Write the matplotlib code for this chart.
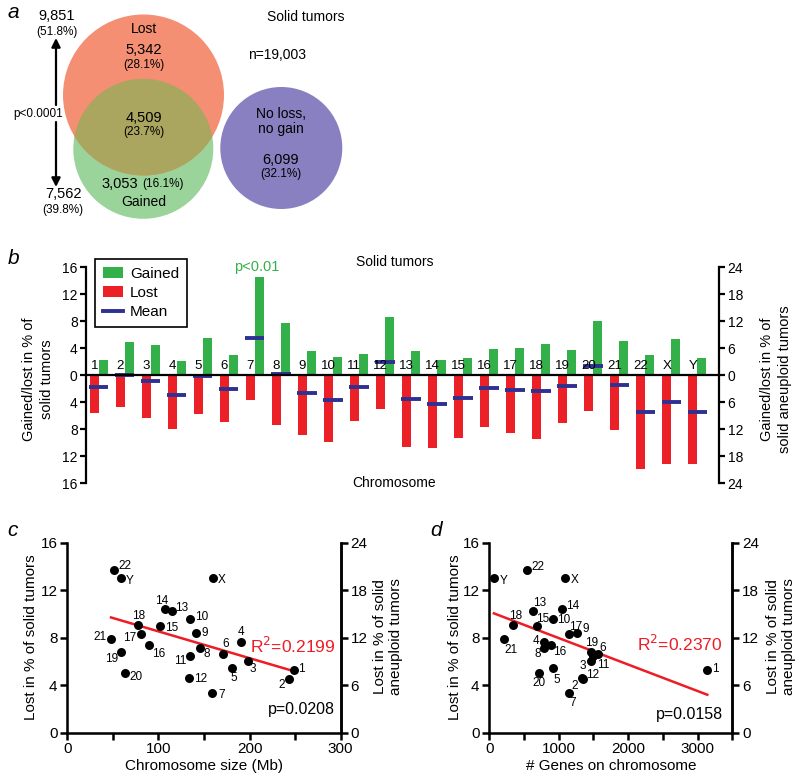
import numpy as np
import matplotlib
matplotlib.use('Agg')
import matplotlib.pyplot as plt
from matplotlib.patches import Circle, Patch
from matplotlib.lines import Line2D

plt.rcParams['font.family'] = ['Liberation Sans', 'DejaVu Sans']

W, H = 800, 779

# ---- panel a: venn numbers ----
venn_lost_only = ('5,342', '(28.1%)')
venn_both = ('4,509', '(23.7%)')
venn_gained_only = ('3,053', '(16.1%)')
venn_none = ('6,099', '(32.1%)')
total_lost = ('9,851', '(51.8%)')
total_gained = ('7,562', '(39.8%)')
n_total = 'n=19,003'

# ---- panel b: per chromosome gain / loss (% of solid tumors) ----
chroms = ['1', '2', '3', '4', '5', '6', '7', '8', '9', '10', '11', '12',
          '13', '14', '15', '16', '17', '18', '19', '20', '21', '22', 'X', 'Y']
gained = [2.2, 4.9, 4.55, 2.1, 5.55, 2.95, 14.5, 7.8, 3.55, 2.7, 3.15, 8.7,
          3.6, 2.2, 2.55, 3.85, 4.05, 4.6, 3.8, 8.0, 5.05, 2.95, 5.45, 2.5]
lost = [5.6, 4.7, 6.3, 8.0, 5.7, 6.9, 3.6, 7.4, 8.8, 9.9, 6.7, 4.95,
        10.6, 10.8, 9.25, 7.6, 8.5, 9.4, 7.0, 5.3, 8.1, 13.9, 13.2, 13.2]
mean = [-1.7, 0.1, -0.9, -2.9, -0.1, -2.0, 5.5, 0.25, -2.6, -3.6, -1.7, 2.0,
        -3.45, -4.2, -3.35, -1.85, -2.25, -2.35, -1.6, 1.35, -1.5, -5.45, -3.9, -5.4]

# ---- panels c/d ----
size_mb = [249, 243, 198, 191, 181, 171, 159, 146, 141, 135, 135, 134,
           115, 107, 102, 90, 81, 78, 59, 63, 48, 51, 160, 59]
n_genes = [3140, 1344, 1459, 787, 922, 1565, 1147, 787, 1267, 922, 1488, 1335,
           624, 1047, 691, 883, 1143, 336, 1459, 720, 216, 543, 1088, 66]
lost_pts = [5.27, 4.5, 6.0, 7.64, 5.45, 6.63, 3.35, 7.13, 8.35, 9.57, 6.47, 4.62,
            10.27, 10.45, 9.0, 7.4, 8.3, 9.1, 6.8, 5.0, 7.86, 13.7, 13.0, 13.0]
r2_c, p_c = '0.2199', '0.0208'
r2_d, p_d = '0.2370', '0.0158'

# label offsets in pixels (dx right, dy down)
offs_c = [(7, -1), (-7, 6), (5, 8), (0, -10), (2, 10), (3, -10), (9, 2), (6, 6),
          (9, 0), (11, -2), (-10, 5), (11, 1), (10, -3), (-3, -8), (11, 2), (9, 9),
          (-11, 4), (0, -9), (-9, 7), (11, 4), (-11, -2), (11, -4), (9, 2), (9, 3)]
offs_d = [(8, -1), (-8, 7), (-8, 5), (-8, -1), (3, 12), (5, -6), (4, 10), (-6, 6),
          (8, -4), (10, 1), (11, 9), (11, -3), (7, -8), (11, -3), (5, -7), (9, 7),
          (7, -7), (3, -9), (1, -9), (0, 10), (7, 11), (11, -3), (10, 2), (10, 3)]

GREEN = '#33b04a'
RED = '#ec2027'
NAVY = '#2e3192'


def px_axes(fig, x0, y0, x1, y1):
    return fig.add_axes([x0 / W, 1 - y1 / H, (x1 - x0) / W, (y1 - y0) / H])


fig = plt.figure(figsize=(W / 100, H / 100), dpi=100)

# ================= panel a =================
ax = px_axes(fig, 0, 0, 800, 235)
ax.set_xlim(0, 800)
ax.set_ylim(235, 0)
ax.axis('off')

c_gain = Circle((143.3, 148.8), 70, facecolor='#9bd49b', edgecolor='none')
c_lost = Circle((143.5, 95), 80.5, facecolor='#f48f73', edgecolor='none')
ax.add_patch(c_gain)
ax.add_patch(c_lost)
c_both = Circle((143.5, 95), 80.5, facecolor='#aaa55f', edgecolor='none')
ax.add_patch(c_both)
c_both.set_clip_path(c_gain)
ax.add_patch(Circle((281.3, 148), 61, facecolor='#8880c0', edgecolor='none'))

ax.text(143.5, 29, 'Lost', ha='center', va='center', fontsize=10)
ax.text(143.5, 50.5, venn_lost_only[0], ha='center', va='center', fontsize=10.5)
ax.text(143.5, 65, venn_lost_only[1], ha='center', va='center', fontsize=8.5)
ax.text(143.5, 118.5, venn_both[0], ha='center', va='center', fontsize=10.5)
ax.text(143.5, 132.5, venn_both[1], ha='center', va='center', fontsize=8.5)
ax.text(138, 183.5, venn_gained_only[0], ha='right', va='center', fontsize=10.5)
ax.text(142, 183.5, venn_gained_only[1], ha='left', va='center', fontsize=8.5)
ax.text(143.5, 202.5, 'Gained', ha='center', va='center', fontsize=10)
ax.text(281, 114.5, 'No loss,', ha='center', va='center', fontsize=10)
ax.text(281, 129, 'no gain', ha='center', va='center', fontsize=10)
ax.text(281, 160, venn_none[0], ha='center', va='center', fontsize=10.5)
ax.text(281, 174, venn_none[1], ha='center', va='center', fontsize=8.5)
ax.text(306, 17, 'Solid tumors', ha='center', va='center', fontsize=10)
ax.text(277, 55, n_total, ha='center', va='center', fontsize=10)

ax.text(57, 16.5, total_lost[0], ha='center', va='center', fontsize=10.5)
ax.text(57, 31.5, total_lost[1], ha='center', va='center', fontsize=8.5)
ax.text(63, 194.5, total_gained[0], ha='center', va='center', fontsize=10.5)
ax.text(63, 209.5, total_gained[1], ha='center', va='center', fontsize=8.5)
ax.text(38, 113.5, 'p<0.0001', ha='center', va='center', fontsize=8.5)
arr = dict(arrowstyle='-|>', lw=1.6, color='k', mutation_scale=13, shrinkA=0, shrinkB=0)
ax.annotate('', xy=(56, 38), xytext=(56, 105), arrowprops=arr)
ax.annotate('', xy=(56, 187), xytext=(56, 122), arrowprops=arr)

fig.text(8 / W, 1 - 12 / H, 'a', fontsize=15, style='italic', va='center')

# ================= panel b =================
axb = px_axes(fig, 86, 267.3, 719.3, 483.3)
x = np.arange(len(chroms))
bw = 0.345
axb.bar(x - bw / 2, [-v for v in lost], width=bw, color=RED, zorder=2)
axb.bar(x + bw / 2, gained, width=bw, color=GREEN, zorder=2)
axb.hlines(mean, x - 0.37, x + 0.37, color=NAVY, lw=2.8, zorder=3)
axb.axhline(0, color='k', lw=1.6, zorder=4)
for xi, lab in zip(x, chroms):
    axb.text(xi - bw / 2, 0.45, lab, ha='center', va='bottom', fontsize=9.5, zorder=5)
axb.text(6 + bw / 2 - 0.1, 16.0, 'p<0.01', color=GREEN, ha='center', va='center', fontsize=10.5)

axb.set_xlim(-0.49, 23.85)
axb.set_ylim(-16, 16)
yt = np.arange(-16, 17, 4)
axb.set_yticks(yt)
axb.set_yticklabels([str(abs(v)) for v in yt], fontsize=10)
axb.set_xticks([])
for s in ['top', 'bottom', 'right']:
    axb.spines[s].set_visible(False)
axb.spines['left'].set_linewidth(1.6)
axb.tick_params(axis='y', direction='out', length=4, width=1.6, pad=2)

axb2 = axb.twinx()
axb2.set_ylim(-24, 24)
yt2 = np.arange(-24, 25, 6)
axb2.set_yticks(yt2)
axb2.set_yticklabels([str(abs(v)) for v in yt2], fontsize=10)
for s in ['top', 'bottom', 'left']:
    axb2.spines[s].set_visible(False)
axb2.spines['right'].set_linewidth(1.6)
axb2.tick_params(axis='y', direction='out', length=4, width=1.6, pad=2)

handles = [Patch(facecolor=GREEN), Patch(facecolor=RED),
           Line2D([], [], color=NAVY, lw=2.8)]
leg = axb2.legend(handles, ['Gained', 'Lost', 'Mean'], loc='upper left',
                  bbox_to_anchor=(0.0142, 1.037), borderaxespad=0, fontsize=11,
                  fancybox=False, edgecolor='k', framealpha=1, borderpad=0.5,
                  handlelength=1.35, handleheight=0.72, labelspacing=0.33,
                  handletextpad=0.45)
leg.get_frame().set_linewidth(1.2)
leg.set_zorder(10)

fig.text(395 / W, 1 - 262 / H, 'Solid tumors', ha='center', va='center', fontsize=10)
fig.text(394 / W, 1 - 483 / H, 'Chromosome', ha='center', va='center', fontsize=10)
fig.text(38 / W, 1 - 379 / H, 'Gained/lost in % of\nsolid tumors', rotation=90,
         ha='center', va='center', fontsize=10.5, multialignment='center', linespacing=1.3)
fig.text(776 / W, 1 - 379 / H, 'Gained/lost in % of\nsolid aneuploid tumors', rotation=90,
         ha='center', va='center', fontsize=10.5, multialignment='center', linespacing=1.3)
fig.text(8 / W, 1 - 258 / H, 'b', fontsize=15, style='italic', va='center')


# ================= panels c and d =================
def scatter_panel(box, xs, xlim, xticks, xminor, xlabel, offs, r2, pval, r2pos, ppos,
                  ylabx, ylab2x, letter, letterx):
    axs = px_axes(fig, *box)
    axs.scatter(xs, lost_pts, s=42, color='k', zorder=3, linewidths=0)
    for xv, yv, lab, (dx, dy) in zip(xs, lost_pts, chroms, offs):
        axs.annotate(lab, (xv, yv), xytext=(dx * 0.72, -dy * 0.72), textcoords='offset points',
                     ha='center', va='center', fontsize=8.5)
    k, b = np.polyfit(xs, lost_pts, 1)
    xx = np.array([min(xs), max(xs)])
    axs.plot(xx, k * xx + b, color='#ee1c25', lw=1.8, zorder=2)
    axs.set_xlim(*xlim)
    axs.set_ylim(0, 16)
    axs.set_xticks(xticks)
    axs.set_xticks(xminor, minor=True)
    axs.set_yticks([0, 4, 8, 12, 16])
    axs.tick_params(labelsize=11, direction='out', length=5, width=1.8, pad=2)
    axs.tick_params(which='minor', direction='out', length=5, width=1.8)
    axs.spines['top'].set_visible(False)
    for s in ['left', 'bottom', 'right']:
        axs.spines[s].set_linewidth(1.8)
    axs.set_xlabel(xlabel, fontsize=11, labelpad=2)
    axs.text(r2pos[0], r2pos[1], 'R$^2$=' + r2, color='#ee1c25', ha='right',
             va='center', fontsize=12.5)
    axs.text(ppos[0], ppos[1], 'p=' + pval, ha='right', va='center', fontsize=11.5)
    ax2 = axs.twinx()
    ax2.set_ylim(0, 24)
    ax2.set_yticks([0, 6, 12, 18, 24])
    ax2.tick_params(labelsize=11, direction='out', length=5, width=1.8, pad=2)
    ax2.spines['top'].set_visible(False)
    ax2.spines['right'].set_linewidth(1.8)
    fig.text(ylabx / W, 1 - 637 / H, 'Lost in % of solid tumors', rotation=90,
             ha='center', va='center', fontsize=11)
    fig.text(ylab2x / W, 1 - 637 / H, 'Lost in % of solid\naneuploid tumors', rotation=90,
             ha='center', va='center', fontsize=11, multialignment='center', linespacing=1.25)
    fig.text(letterx / W, 1 - 530 / H, letter, fontsize=15, style='italic', va='center')
    return axs


scatter_panel((67.3, 542.7, 340.7, 732.5), size_mb, (0, 300), [0, 100, 200, 300],
              [50, 150, 250], 'Chromosome size (Mb)', offs_c, r2_c, p_c,
              (294, 7.3), (294, 1.95), 31, 388, 'c', 7)
scatter_panel((489.3, 542.7, 732.3, 732.5), n_genes, (0, 3500), [0, 1000, 2000, 3000],
              [500, 1500, 2500, 3500], '# Genes on chromosome', offs_d, r2_d, p_d,
              (3362, 7.45), (3362, 1.5), 455, 781, 'd', 430)

fig.savefig('out.png', dpi=100)
